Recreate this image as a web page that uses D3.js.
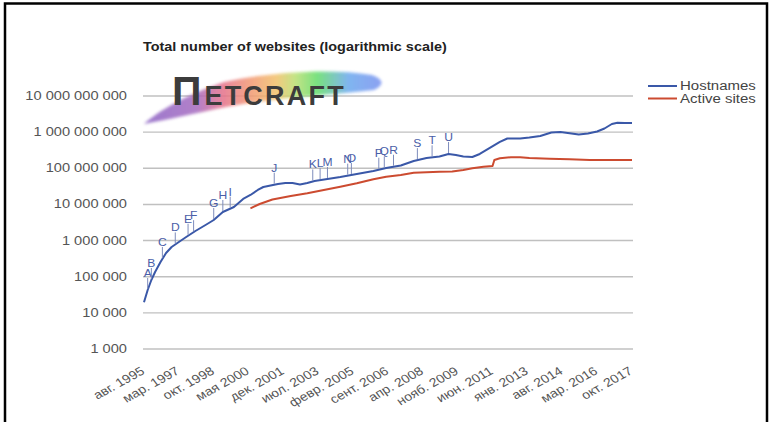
<!DOCTYPE html>
<html>
<head>
<meta charset="utf-8">
<script src="https://cdnjs.cloudflare.com/ajax/libs/d3/7.8.5/d3.min.js"></script>
<style>
  html, body { margin: 0; padding: 0; background: #fff; }
  svg { display: block; font-family: "Liberation Sans", Arial, sans-serif; }
</style>
</head>
<body>
<svg id="chart" width="771" height="422"></svg>
<script>
// ---------- DATA ----------
const titleText = "Total number of websites (logarithmic scale)";
const seriesNames = ["Hostnames", "Active sites"];

const hostDates = ["1995-08","1995-10","1995-12","1996-02","1996-05","1996-08","1996-11","1997-03","1997-07","1997-12",
  "1998-06","1998-10","1999-03","1999-09","2000-02","2000-06","2000-10","2001-01","2001-05","2001-09",
  "2002-01","2002-05","2002-09","2003-01","2003-05","2003-12","2004-07","2005-04","2006-01","2006-08",
  "2007-04","2007-11","2008-06","2009-01","2009-06","2009-10","2010-02","2010-07","2010-11","2011-05",
  "2011-10","2012-02","2012-09","2013-02","2013-08","2014-02","2014-07","2014-11","2015-05","2015-10",
  "2016-03","2016-07","2016-11","2017-02","2017-06","2017-10"];
const hostValues = [19000,41600,78600,131000,247000,439000,644000,885000,1217000,1782000,
  2698000,3594000,5985000,8227000,13700000,17700000,24300000,29400000,32400000,35600000,
  38000000,38000000,34500000,38000000,43200000,49000000,55600000,67300000,81500000,98600000,
  115800000,154300000,186700000,205500000,241000000,226000000,205500000,199000000,241000000,365000000,
  518000000,647000000,647000000,689000000,758000000,948000000,979000000,918000000,834000000,889000000,
  1010000000,1222000000,1629000000,1758000000,1737000000,1737000000];

const activeDates = ["2000-06","2000-11","2001-06","2002-04","2003-01","2003-10","2004-07","2005-04","2006-01","2006-08",
  "2007-04","2007-11","2008-06","2009-01","2009-08","2010-02","2010-07","2011-01","2011-06","2011-07",
  "2011-10","2012-04","2012-09","2013-02","2014-01","2014-12","2015-11","2016-10","2017-10"];
const activeValues = [7570000,9960000,13270000,16600000,19700000,24300000,30000000,37200000,48100000,56800000,
  63300000,73200000,75100000,78000000,79000000,87000000,96900000,107200000,112100000,164400000,
  183300000,195300000,195300000,186700000,178600000,171800000,164400000,164400000,164400000];

const annoLetters = ["A","B","C","D","E","F","G","H","I","J","K","L","M","N","O","P","Q","R","S","T","U"];
const annoDates = ["1995-10","1995-12","1996-06","1997-01","1997-08","1997-11","1998-10","1999-03","1999-07","2001-07",
  "2003-04","2003-08","2003-12","2004-11","2005-01","2006-04","2006-07","2006-12","2008-01","2008-09","2009-06"];

const yTickValues = [1e3, 1e4, 1e5, 1e6, 1e7, 1e8, 1e9, 1e10];
const yTickLabels = ["1 000","10 000","100 000","1 000 000","10 000 000","100 000 000","1 000 000 000","10 000 000 000"];

const xTickDates = ["1995-08","1997-03","1998-10","2000-05","2001-12","2003-07","2005-02","2006-09","2008-04","2009-11",
  "2011-06","2013-01","2014-08","2016-03","2017-10"];
const xTickLabels = ["авг. 1995","мар. 1997","окт. 1998","мая 2000","дек. 2001","июл. 2003","февр. 2005","сент. 2006",
  "апр. 2008","нояб. 2009","июн. 2011","янв. 2013","авг. 2014","мар. 2016","окт. 2017"];

// ---------- DRAW ----------
const parse = d3.timeParse("%Y-%m");
const svg = d3.select("#chart");
const STRETCH = 1.22;
const colors = ["#3a58a8", "#cc4b30"];

const x = d3.scaleTime().domain([parse("1995-08"), parse("2017-10")]).range([144, 632]);
const y = d3.scaleLog().domain([1e3, 1e10]).range([348.5, 95.5]);

// frame
svg.append("path").attr("d", "M5,422V3.5H767V422").attr("fill", "none").attr("stroke", "#000").attr("stroke-width", 2.5);

// title
svg.append("text").attr("transform", "translate(143,51) scale(1.2,1)")
  .attr("font-size", 12).attr("font-weight", "bold").attr("fill", "#222").text(titleText);

// grid + y axis
const yAxis = d3.axisLeft(y).tickValues(yTickValues)
  .tickFormat((d, i) => yTickLabels[i]).tickSize(-(633 - 143)).tickPadding(0);
const gy = svg.append("g").attr("transform", "translate(143,0)").call(yAxis);
gy.select(".domain").remove();
gy.selectAll(".tick line").attr("stroke", "#c0c0c0").attr("stroke-width", 1.4);
gy.selectAll(".tick text").attr("x", null).attr("dy", null)
  .attr("transform", "translate(-16,4) scale(" + STRETCH + ",1)")
  .attr("font-size", 12).attr("fill", "#555").attr("font-family", "Liberation Sans, Arial, sans-serif");

// netcraft logo
const defs = svg.append("defs");
const grad = defs.append("linearGradient").attr("id", "rainbow").attr("gradientUnits", "userSpaceOnUse")
  .attr("x1", 143).attr("x2", 385).attr("y1", 0).attr("y2", 0);
[[0, "#8a62c4"], [0.22, "#a56ac0"], [0.33, "#e4708a"], [0.45, "#f39a72"], [0.55, "#f2c06a"],
 [0.63, "#b8e070"], [0.72, "#62dc6a"], [0.85, "#6aa8ee"], [1, "#7a8ff0"]]
  .forEach(s => grad.append("stop").attr("offset", s[0]).attr("stop-color", s[1]));
const blur = defs.append("filter").attr("id", "soft").attr("x", "-10%").attr("y", "-30%").attr("width", "120%").attr("height", "160%");
blur.append("feGaussianBlur").attr("stdDeviation", 1.4);
svg.append("path")
  .attr("d", "M144,124 C158,111 186,95 224,82 C270,72 330,68 372,75 Q390,82 374,90 C330,95 272,98 226,107 C196,113 166,120 144,124 Z")
  .attr("fill", "url(#rainbow)").attr("opacity", 0.85).attr("filter", "url(#soft)");
const logo = svg.append("text").attr("x", 172).attr("y", 105).attr("fill", "#3c3c3c")
  .attr("font-family", "Liberation Sans, Arial, sans-serif").attr("font-weight", "bold");
logo.append("tspan").attr("font-size", 41).text("П");
logo.append("tspan").attr("font-size", 27).attr("dx", 3).attr("letter-spacing", 2.2).text("ETCRAFT");

// x axis labels
const xAxis = d3.axisBottom(x).tickValues(xTickDates.map(parse))
  .tickFormat((d, i) => xTickLabels[i]).tickSize(0);
const gx = svg.append("g").attr("transform", "translate(0,364)").call(xAxis);
gx.select(".domain").remove();
gx.selectAll(".tick text").attr("y", null).attr("dy", null)
  .attr("text-anchor", "end")
  .attr("transform", "translate(1,9) scale(1.17,1) rotate(-33)")
  .attr("font-size", 12).attr("fill", "#555").attr("font-family", "Liberation Sans, Arial, sans-serif");

// lines
const line = d3.line().x(d => x(d.date)).y(d => y(d.value)).curve(d3.curveLinear);
const hostData = hostDates.map((d, i) => ({ date: parse(d), value: hostValues[i] }));
const activeData = activeDates.map((d, i) => ({ date: parse(d), value: activeValues[i] }));

svg.append("path").datum(activeData).attr("d", line).attr("fill", "none")
  .attr("stroke", colors[1]).attr("stroke-width", 2).attr("stroke-linejoin", "round");
svg.append("path").datum(hostData).attr("d", line).attr("fill", "none")
  .attr("stroke", colors[0]).attr("stroke-width", 2).attr("stroke-linejoin", "round");

// annotations
function hostAt(date) {
  const t = +date;
  for (let i = 0; i < hostData.length - 1; i++) {
    const a = hostData[i], b = hostData[i + 1];
    if (t >= +a.date && t <= +b.date) {
      const f = (t - a.date) / (b.date - a.date);
      return Math.pow(10, Math.log10(a.value) + f * (Math.log10(b.value) - Math.log10(a.value)));
    }
  }
  return hostData[hostData.length - 1].value;
}
const ga = svg.append("g");
annoDates.forEach((d, i) => {
  const dt = parse(d);
  const px = x(dt), py = y(hostAt(dt));
  ga.append("line").attr("x1", px).attr("x2", px).attr("y1", py - 1).attr("y2", py - 12)
    .attr("stroke", "#7e8cbc").attr("stroke-width", 1);
  ga.append("text").attr("transform", "translate(" + px + "," + (py - 13) + ") scale(1.05,1)")
    .attr("text-anchor", "middle").attr("font-size", 11.5).attr("fill", "#4a5ea8").text(annoLetters[i]);
});

// legend
const lg = svg.append("g");
seriesNames.forEach((n, i) => {
  const ly = 86 + i * 12.5;
  lg.append("line").attr("x1", 648).attr("x2", 677).attr("y1", ly).attr("y2", ly)
    .attr("stroke", colors[i]).attr("stroke-width", 2);
  lg.append("text").attr("transform", "translate(680," + (ly + 4) + ") scale(1.25,1)")
    .attr("font-size", 12).attr("fill", "#444").text(n);
});
</script>
</body>
</html>
